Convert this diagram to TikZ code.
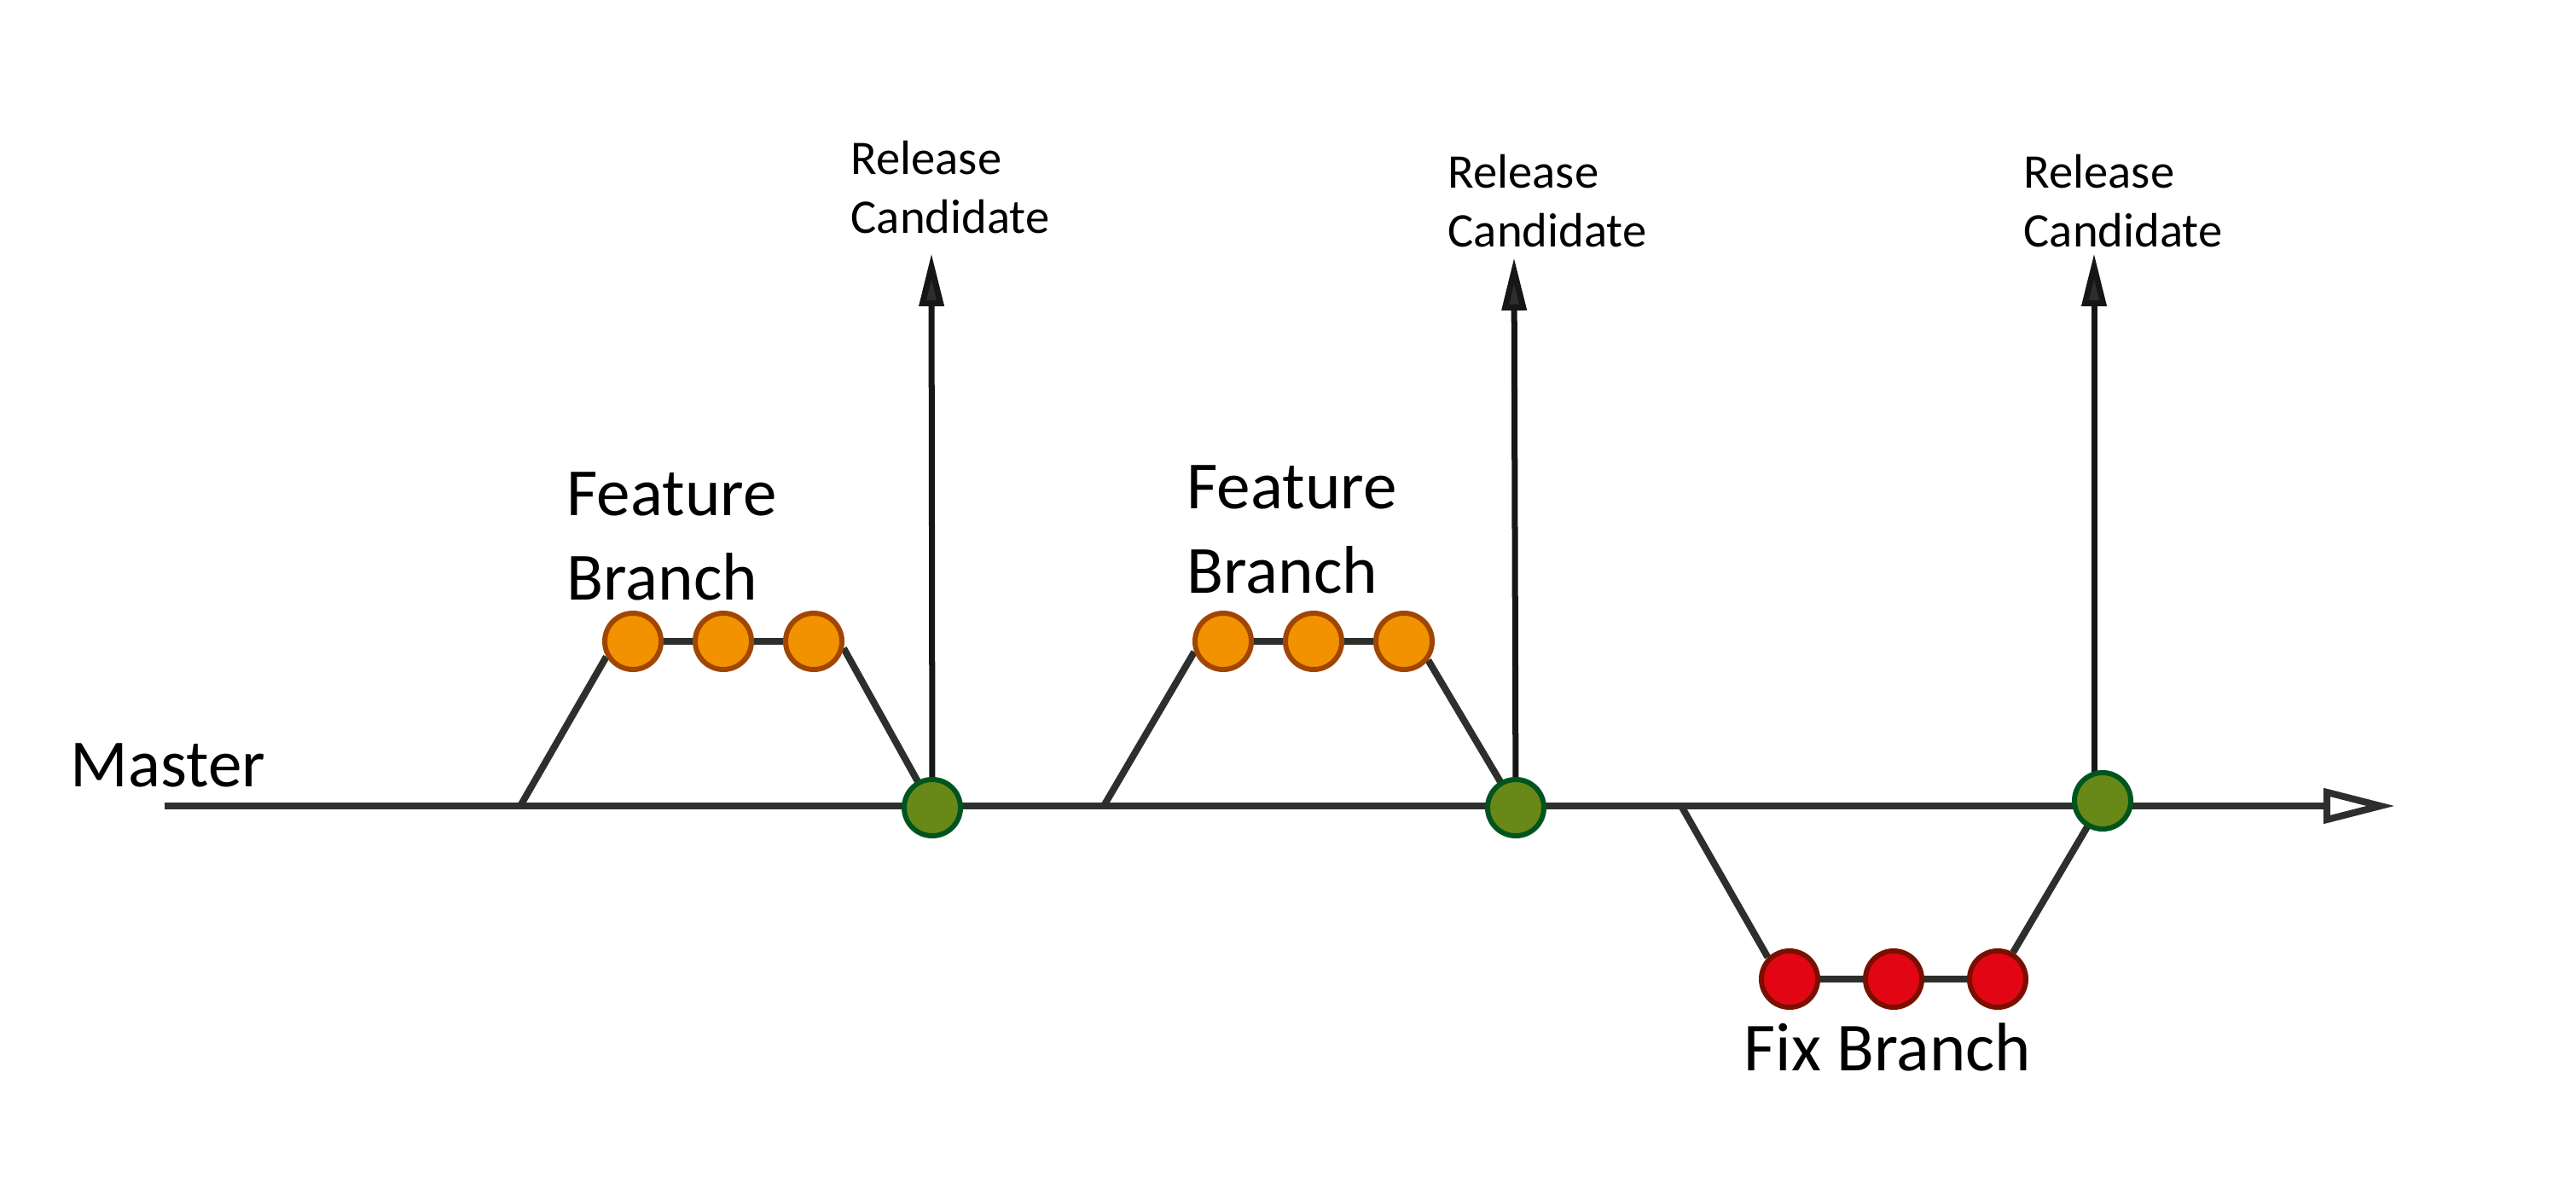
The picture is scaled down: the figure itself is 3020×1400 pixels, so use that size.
\documentclass[tikz,border=0pt]{standalone}
\usepackage{fontspec}
\setmainfont{Carlito}
\usetikzlibrary{arrows.meta}
\usetikzlibrary{backgrounds}
\definecolor{linegray}{HTML}{2C2F2B}
\definecolor{arrowblack}{HTML}{161616}
\definecolor{featfill}{HTML}{F29200}
\definecolor{featline}{HTML}{A04600}
\definecolor{relfill}{HTML}{688818}
\definecolor{relline}{HTML}{00551E}
\definecolor{fixfill}{HTML}{E20614}
\definecolor{fixline}{HTML}{7A0F00}
\tikzset{commit/.style={circle,minimum size=0.66cm,inner sep=0pt,line width=0.06cm},
  featcommit/.style={commit,fill=featfill,draw=featline},
  fixcommit/.style={commit,fill=fixfill,draw=fixline},
  relcommit/.style={commit,fill=relfill,draw=relline},
  branchline/.style={line width=0.08cm,draw=linegray},
  rcarrow/.style={line width=0.07cm,draw=arrowblack,
    -{Triangle[length=0.62cm,width=0.28cm,fill=arrowblack!90!white]}},
  biglabel/.style={font=\fontsize{22.5}{27.9}\selectfont,inner sep=0pt,align=left,anchor=base west},
  rclabel/.style={font=\fontsize{16.1}{19.9}\selectfont,inner sep=0pt,align=left,anchor=base west}}

\begin{document}
\begin{tikzpicture}[x=0.01cm,y=-0.01cm]
      \useasboundingbox (0,0) rectangle (3020,1400);

      % master
      \coordinate (mstart) at (193,945);
      \coordinate (mend) at (2808,945);
      \node[biglabel] (master) at (82,922) {Master};

      % first feature branch
      \coordinate (fa) at (610,945);
      \node[featcommit] (fa1) at (742,752) {};
      \node[featcommit] (fa2) at (848,752) {};
      \node[featcommit] (fa3) at (954,752) {};
      \node[relcommit] (rc1) at (1093,947) {};
      \node[biglabel] (falabel) at (664,703) {Feature\\Branch};

      % second feature branch
      \coordinate (fb) at (1294,945);
      \node[featcommit] (fb1) at (1434,752) {};
      \node[featcommit] (fb2) at (1540,752) {};
      \node[featcommit] (fb3) at (1646,752) {};
      \node[relcommit] (rc2) at (1777,947) {};
      \node[biglabel] (fblabel) at (1391,695) {Feature\\Branch};

      % fix branch
      \coordinate (fx) at (1971,945);
      \node[fixcommit] (fx1) at (2098,1148) {};
      \node[fixcommit] (fx2) at (2220,1148) {};
      \node[fixcommit] (fx3) at (2342,1148) {};
      \node[relcommit] (rc3) at (2465,939) {};
      \node[biglabel,font=\fontsize{22.9}{27.9}\selectfont] (fxlabel) at (2044,1255) {Fix Branch};

      % release candidates
      \coordinate (rc1top) at (1092,297);
      \coordinate (rc2top) at (1775,302);
      \coordinate (rc3top) at (2455,297);
      \node[rclabel] (rc1label) at (997,274) {Release\\Candidate};
      \node[rclabel] (rc2label) at (1697,290) {Release\\Candidate};
      \node[rclabel] (rc3label) at (2372,290) {Release\\Candidate};

      \begin{pgfonlayer}{background}
        \draw[branchline,-{Triangle[open,length=0.84cm,width=0.4cm]}] (mstart) -- (mend);

        \draw[branchline] (fa) -- (fa1.210);
        \draw[branchline] (fa1) -- (fa2) -- (fa3);
        \draw[branchline] (fa3.-13) -- (rc1.center);

        \draw[branchline] (fb) -- (fb1.200);
        \draw[branchline] (fb1) -- (fb2) -- (fb3);
        \draw[branchline] (fb3.-38) -- (rc2.center);

        \draw[branchline] (fx) -- (fx1.135);
        \draw[branchline] (fx1) -- (fx2) -- (fx3);
        \draw[branchline] (fx3.60) -- (rc3.center);

        \draw[rcarrow] (rc1.center) -- (rc1top);
        \draw[rcarrow] (rc2.center) -- (rc2top);
        \draw[rcarrow] (rc3top |- rc3.center) -- (rc3top);
      \end{pgfonlayer}
    \end{tikzpicture}
\end{document}
